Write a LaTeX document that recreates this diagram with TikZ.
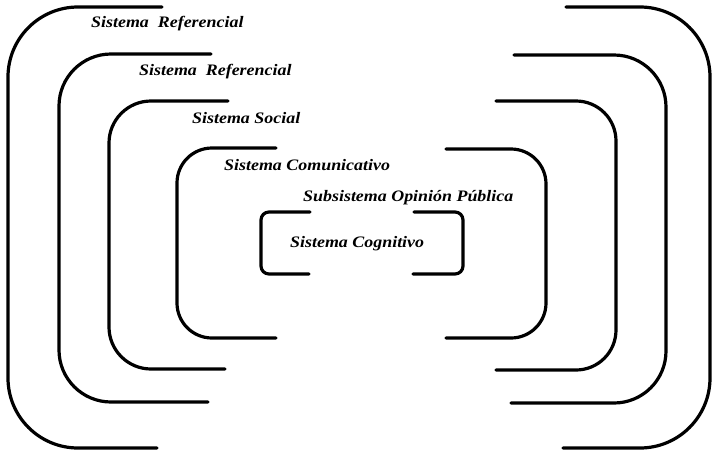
\documentclass[tikz,border=0pt]{standalone}
\usepackage{fontspec}
\setmainfont{Liberation Serif}
\newcommand{\widetext}[1]{\scalebox{1.12}[1]{#1}}
\begin{document}
\begin{tikzpicture}[x=1pt,y=-1pt,
  bracket/.style={line width=3.2pt, line cap=round},
  label/.style={anchor=west, inner sep=0pt, font=\fontsize{16}{18}\selectfont\bfseries\itshape}]
\useasboundingbox (0,0) rectangle (713,451);
% left halves, outermost to innermost
\draw[bracket, rounded corners=70pt] (162,7) -- (8,7) -- (8,448) -- (157,448);
\draw[bracket, rounded corners=52pt] (211,54) -- (59,54) -- (59,402) -- (208,402);
\draw[bracket, rounded corners=42pt] (228,101) -- (109,101) -- (109,369) -- (225,369);
\draw[bracket, rounded corners=35pt] (276,148) -- (177,148) -- (177,338) -- (276,338);
\draw[bracket, rounded corners=8pt] (310,212) -- (261,212) -- (261,274) -- (309,274);
% right halves
\draw[bracket, rounded corners=70pt] (566,7) -- (710,7) -- (710,448) -- (563,448);
\draw[bracket, rounded corners=52pt] (514,55) -- (666,55) -- (666,403) -- (511,403);
\draw[bracket, rounded corners=40pt] (496,101) -- (616,101) -- (616,370) -- (496,370);
\draw[bracket, rounded corners=35pt] (446,149) -- (546,149) -- (546,338) -- (446,338);
\draw[bracket, rounded corners=8pt] (414,212) -- (463,212) -- (463,274) -- (413,274);
% labels
\node[label] (ref1) at (91,24) {\widetext{Sistema\ \ Referencial}};
\node[label] (ref2) at (139,72) {\widetext{Sistema\ \ Referencial}};
\node[label] (soc) at (192,118) {\widetext{Sistema Social}};
\node[label] (com) at (224,165) {\widetext{Sistema Comunicativo}};
\node[label] (op) at (303,198) {\widetext{Subsistema Opinión Pública}};
\node[label] (cog) at (290,244) {\widetext{Sistema Cognitivo}};
\end{tikzpicture}
\end{document}
